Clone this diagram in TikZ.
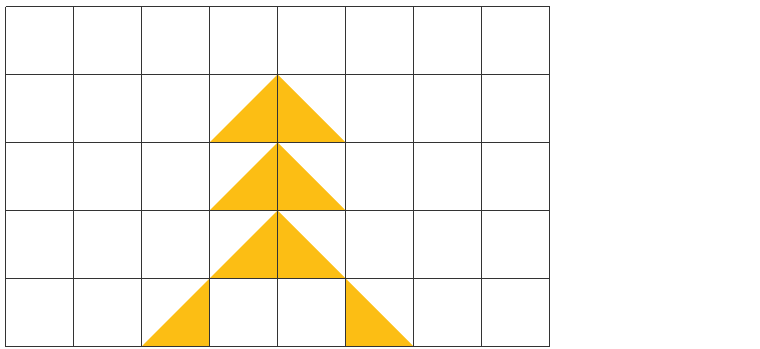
\documentclass[tikz,border=0pt]{standalone}
\definecolor{tri}{HTML}{FCBE14}
\definecolor{gridc}{HTML}{333333}
\begin{document}
\begin{tikzpicture}[x=1pt,y=-1pt,
  trifill/.style={fill=tri},
  gridline/.style={draw=gridc,line width=1.6pt}]
\useasboundingbox (0,0) rectangle (760,348);
% triangles
\foreach \r in {0,1,2}{
  \fill[trifill] (277.5,{74.5+68*\r}) -- (345.5,{142.5+68*\r}) -- (209.5,{142.5+68*\r}) -- cycle;
}
\fill[trifill] (209.5,278.5) -- (209.5,346.5) -- (141.5,346.5) -- cycle;
\fill[trifill] (345.5,278.5) -- (413.5,346.5) -- (345.5,346.5) -- cycle;
% grid
\foreach \i in {0,...,8}{
  \draw[gridline] ({5.5+68*\i},6.5) -- ({5.5+68*\i},346.5);
}
\foreach \j in {0,...,5}{
  \draw[gridline] (5.5,{6.5+68*\j}) -- (549.5,{6.5+68*\j});
}
\end{tikzpicture}
\end{document}
